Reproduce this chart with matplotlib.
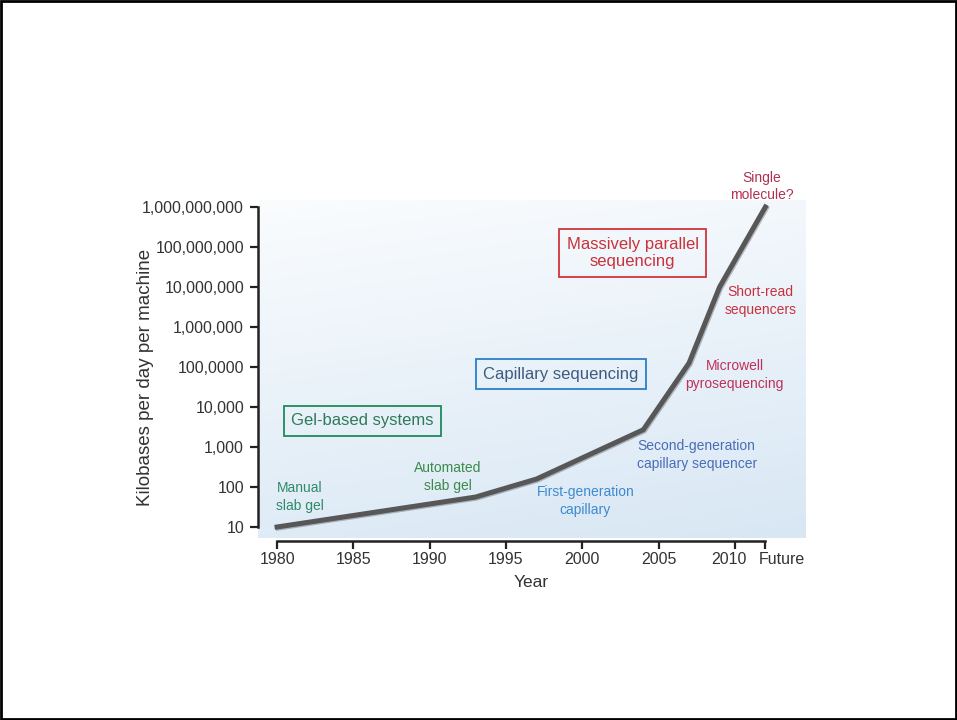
import numpy as np
import matplotlib
matplotlib.use("Agg")
import matplotlib.pyplot as plt
import matplotlib.patheffects as pe
import matplotlib.transforms as mtransforms
from matplotlib.colors import LinearSegmentedColormap

plt.rcParams["font.family"] = ["Liberation Sans", "DejaVu Sans"]

# Data
years = [1980, 1993, 1997, 2004, 2007, 2009, 2012]
kilobases = [10, 56, 158, 2700, 126000, 1e7, 1e9]

ytick_values = [1e1, 1e2, 1e3, 1e4, 1e5, 1e6, 1e7, 1e8, 1e9]
ytick_labels = ["10", "100", "1,000", "10,000", "100,0000", "1,000,000",
                "10,000,000", "100,000,000", "1,000,000,000"]
xtick_values = [1980, 1985, 1990, 1995, 2000, 2005, 2010, 2012]
xtick_labels = ["1980", "1985", "1990", "1995", "2000", "2005", "2010", "Future"]

fig = plt.figure(figsize=(9.57, 7.2), dpi=100)
ax = fig.add_axes([0.2696, 0.2528, 0.5716, 0.4694])

xlim = (1978.75, 2014.6)
ylim = (10 ** 0.725, 10 ** 9.175)

# background gradient (near white at top -> pale blue at bottom-right)
gx, gy = np.meshgrid(np.linspace(0, 1, 200), np.linspace(0, 1, 200))
grad = 0.8 * (1 - gy) + 0.2 * gx
cmap = LinearSegmentedColormap.from_list("bg", ["#fafcfe", "#d8e7f4"])
ax.imshow(grad, cmap=cmap, extent=(0, 1, 0, 1), transform=ax.transAxes,
          aspect="auto", origin="lower", zorder=0)

ax.set_xlim(*xlim)
ax.set_yscale("log")
ax.set_ylim(*ylim)

# main line
ax.plot(years, kilobases, color="#575757", lw=3.6, solid_joinstyle="miter",
        zorder=3, path_effects=[pe.SimpleLineShadow(offset=(0.8, -0.8), alpha=0.25),
                                pe.Normal()])

# axes styling
for s in ["top", "right"]:
    ax.spines[s].set_visible(False)
ax.spines["left"].set_bounds(1e1, 1e9)
ax.spines["bottom"].set_bounds(1980, 2012)
ax.spines["bottom"].set_position(("outward", 2))
for s in ["left", "bottom"]:
    ax.spines[s].set_linewidth(1.8)
    ax.spines[s].set_color("#222222")

ax.set_yticks(ytick_values)
ax.set_yticklabels(ytick_labels)
ax.yaxis.set_minor_locator(matplotlib.ticker.NullLocator())
ax.set_xticks(xtick_values)
ax.set_xticklabels(xtick_labels)
ax.tick_params(axis="both", length=6, width=1.6, color="#222222",
               labelsize=11.5, labelcolor="#333333", pad=4)
ax.tick_params(axis="x", pad=2)

# nudge the last two x labels apart
xlabels = ax.get_xticklabels()
shift_2010 = mtransforms.ScaledTranslation(-4 / 72, 0, fig.dpi_scale_trans)
shift_future = mtransforms.ScaledTranslation(-5 / 72, 0, fig.dpi_scale_trans)
xlabels[-2].set_transform(xlabels[-2].get_transform() + shift_2010)
xlabels[-1].set_horizontalalignment("left")
xlabels[-1].set_transform(xlabels[-1].get_transform() + shift_future)

ax.set_ylabel("Kilobases per day per machine", fontsize=13.5, color="#333333")
ax.yaxis.set_label_coords(-0.19, 0.475)
ax.set_xlabel("Year", fontsize=12.5, color="#333333", labelpad=6)

# category boxes
ax.text(1985.6, 4470, "Gel-based systems", fontsize=12, color="#2f7a5a",
        ha="center", va="center",
        bbox=dict(boxstyle="square,pad=0.45", fc="none", ec="#1f8a5c", lw=1.3))
ax.text(1998.6, 66800, "Capillary sequencing", fontsize=12, color="#3d5b82",
        ha="center", va="center",
        bbox=dict(boxstyle="square,pad=0.45", fc="none", ec="#2a7fc8", lw=1.3))
ax.text(2003.3, 7.1e7, "Massively parallel\nsequencing", fontsize=12, color="#c8323a",
        ha="center", va="center", linespacing=1.2,
        bbox=dict(boxstyle="square,pad=0.45", fc="none", ec="#d0343c", lw=1.3))

# point annotations
notes = [
    (1981.5, 56, "Manual\nslab gel", "#2f8a6a"),
    (1991.2, 178, "Automated\nslab gel", "#3b8a4a"),
    (2000.2, 45, "First-generation\ncapillary", "#3d8ad0"),
    (2007.5, 631, "Second-generation\ncapillary sequencer", "#4a6db5"),
    (2010.0, 63000, "Microwell\npyrosequencing", "#c0305a"),
    (2011.7, 4.5e6, "Short-read\nsequencers", "#c8303e"),
    (2011.75, 3.2e9, "Single\nmolecule?", "#b03050"),
]
for x, y, txt, c in notes:
    ax.text(x, y, txt, fontsize=10, color=c, ha="center", va="center",
            linespacing=1.3, clip_on=False, zorder=4)

# outer frame
fig.patches.append(plt.Rectangle((0.001, 0.001), 0.998, 0.998, transform=fig.transFigure,
                                 fill=False, ec="black", lw=2))

fig.savefig("out.png", dpi=100)
